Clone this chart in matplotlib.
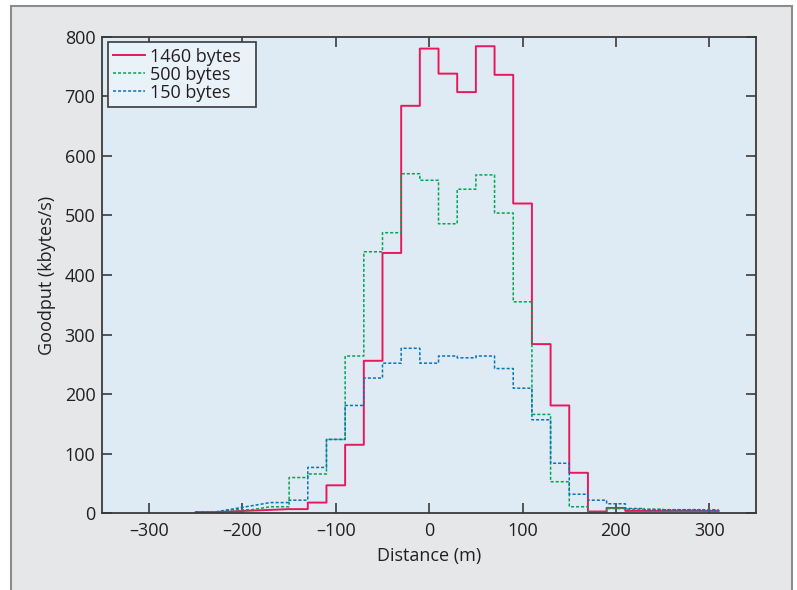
import matplotlib.pyplot as plt
from matplotlib.patches import Rectangle

# goodput per 20 m distance bin (bin centres in m, values in kbytes/s)
dist_1460 = [-240, -140, -120, -100, -80, -60, -40, -20, 0, 20, 40, 60, 80, 100,
             120, 140, 160, 180, 200, 220, 240, 260, 280, 300]
goodput_1460 = [2, 7, 18, 47, 115, 256, 437, 684, 780, 738, 707, 784, 736, 520,
                284, 181, 68, 3, 9, 4, 4, 4, 4, 4]

dist_500 = [-240, -200, -160, -140, -120, -100, -80, -60, -40, -20, 0, 20, 40, 60,
            80, 100, 120, 140, 160, 180, 200, 220, 240, 260, 280, 300]
goodput_500 = [2, 6, 11, 60, 66, 124, 264, 439, 471, 570, 559, 486, 544, 568,
               504, 355, 166, 53, 11, 2, 8, 7, 7, 6, 6, 6]

dist_150 = [-240, -160, -140, -120, -100, -80, -60, -40, -20, 0, 20, 40, 60, 80,
            100, 120, 140, 160, 180, 200, 220, 240, 260, 280, 300]
goodput_150 = [2, 18, 22, 77, 124, 181, 227, 252, 277, 252, 264, 261, 264, 243,
               210, 157, 84, 32, 22, 16, 8, 6, 6, 6, 5]

x_ticks = [-300, -200, -100, 0, 100, 200, 300]
y_ticks = [0, 100, 200, 300, 400, 500, 600, 700, 800]
BIN = 20


def bin_edges(centres, values, width=BIN):
    xs, ys = [], []
    for c, v in zip(centres, values):
        xs += [c - width / 2, c + width / 2]
        ys += [v, v]
    return xs, ys


plt.rcParams["font.family"] = ["Open Sans", "DejaVu Sans"]
plt.rcParams["font.size"] = 13
text_col = "#231f20"

fig = plt.figure(figsize=(7.97, 5.90), dpi=100, facecolor="white")
# grey panel with a thin frame behind the plot
fig.patches.append(Rectangle((11 / 797, -0.05), 781 / 797, 1.05 - 6 / 590,
                             transform=fig.transFigure, facecolor="#e6e7e8",
                             edgecolor="#8c8c8c", linewidth=1.5, zorder=-10))
ax = fig.add_axes([0.1284, 0.130, 0.8202, 0.8078])
ax.set_facecolor("#deebf4")

x, y = bin_edges(dist_1460, goodput_1460)
ax.plot(x, y, color="#e8185c", lw=1.4, label="1460 bytes  ")
x, y = bin_edges(dist_500, goodput_500)
ax.plot(x, y, color="#00a650", lw=1.1, dashes=(2, 1.3), label="500 bytes")
x, y = bin_edges(dist_150, goodput_150)
ax.plot(x, y, color="#0a72ba", lw=1.1, dashes=(2, 1.3), label="150 bytes")

ax.set_xlim(-350, 350)
ax.set_ylim(0, 800)
ax.set_xticks(x_ticks)
ax.set_yticks(y_ticks)
ax.set_xticklabels(["\u2013300", "\u2013200", "\u2013100", "0", "100", "200", "300"])
ax.tick_params(direction="in", length=7.5, width=1.2, color="#3a3a3a",
               top=True, right=True, labelcolor=text_col, labelsize=13)
ax.tick_params(axis="x", pad=6)
ax.tick_params(axis="y", pad=5)
for s in ax.spines.values():
    s.set_color("#3a3a3a")
    s.set_linewidth(1.3)

ax.set_xlabel("Distance (m)", color=text_col, fontsize=13, labelpad=5)
ax.set_ylabel("Goodput (kbytes/s)", color=text_col, fontsize=13, labelpad=6)

leg = ax.legend(loc="upper left", fontsize=13, handlelength=1.75, handletextpad=0.3,
                labelspacing=0.0, borderpad=0.3, borderaxespad=0.3, fancybox=False,
                framealpha=1, facecolor="#eaf2f9", edgecolor="#3a3a3a")
leg.get_frame().set_linewidth(1.2)
for t in leg.get_texts():
    t.set_color(text_col)

fig.savefig("out.png", dpi=100, facecolor=fig.get_facecolor())
